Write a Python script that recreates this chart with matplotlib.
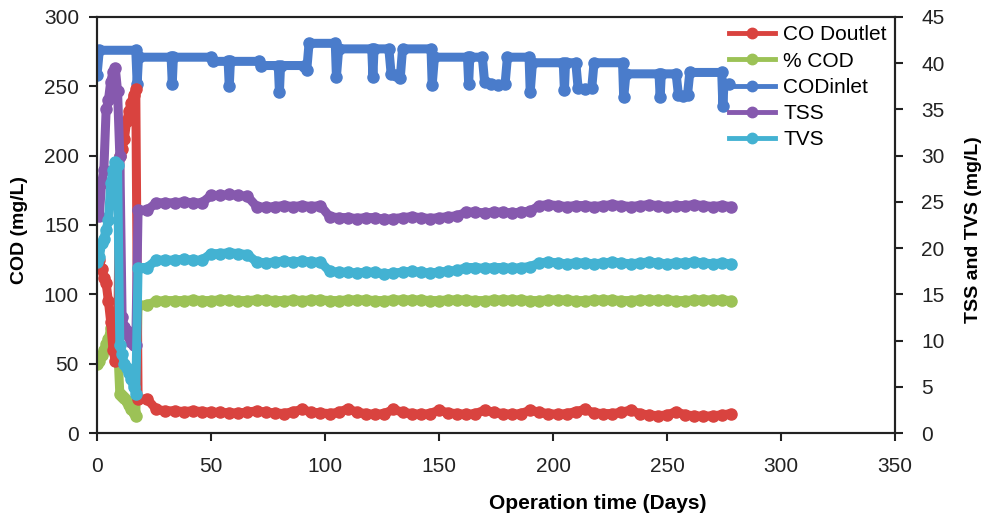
import numpy as np
import matplotlib
matplotlib.use("Agg")
import matplotlib.pyplot as plt
from matplotlib.lines import Line2D

plt.rcParams['font.family'] = ['Liberation Sans', 'DejaVu Sans']

# days 0-17 (start-up, daily) then every 4 days up to day 278
days_early = np.arange(0, 18)
days_late = np.arange(18, 279, 4)
days = np.concatenate([days_early, days_late])

# CO Doutlet (mg/L, left axis)
cod_out = [134, 125, 118, 112, 108, 95, 80, 60, 52, 55, 200, 205, 212, 225, 232, 238, 244, 248,
           24.5, 24.5, 17, 16, 16, 15.5, 16, 15.5, 15, 15,
           14.5, 14.5, 15, 16, 15, 14.5, 14, 15.5, 17, 15,
           14.5, 14, 15, 17.5, 15, 14, 13.5, 14, 17, 15,
           14, 13.5, 14, 16.5, 14.5, 14, 13.5, 14, 16.5, 15,
           14, 13.5, 14, 16.5, 15, 14, 13.5, 14, 15.5, 17,
           14.5, 14, 14, 15, 16.5, 14, 13, 12.5, 13, 15.5,
           13, 12.5, 12, 12.5, 13, 14]

# % COD removal (left axis)
cod_pct = [50, 52, 56, 60, 64, 68, 76, 80, 74, 65, 28, 27, 25, 23, 20, 17, 15, 12,
           92, 92.5, 95, 95.5, 95.5, 95.5, 96, 95.5, 95.5, 96,
           96, 95.5, 95.5, 96, 96, 95.5, 95.5, 96, 95.5, 96,
           96, 95.5, 95.5, 96, 96, 96, 95.5, 95.5, 96, 96,
           96, 96, 95.5, 95.5, 96, 96, 96, 95.5, 95.5, 96,
           96, 96, 96, 95.5, 95.5, 96, 96, 96, 95.5, 95.5,
           96, 96, 96, 95.5, 95.5, 96, 96, 96, 96, 95.5,
           95.5, 96, 96, 96, 96, 95.5]

# TSS (mg/L, right axis)
tss = [24, 23.5, 27, 28.5, 35, 36, 38, 39, 39.5, 37, 30, 12.5, 11.5, 11, 10.5, 9.8, 9.5, 9.5,
       24.1, 24.1, 24.9, 24.9, 24.9, 25.0, 24.9, 24.9, 25.7, 25.7,
       25.8, 25.7, 25.6, 24.5, 24.4, 24.5, 24.6, 24.5, 24.6, 24.5,
       24.6, 23.4, 23.3, 23.3, 23.2, 23.3, 23.3, 23.1, 23.2, 23.3,
       23.4, 23.3, 23.2, 23.3, 23.4, 23.5, 23.9, 23.9, 23.8, 23.9,
       23.9, 23.8, 23.9, 24.0, 24.6, 24.7, 24.6, 24.5, 24.6, 24.6,
       24.5, 24.6, 24.7, 24.6, 24.5, 24.6, 24.7, 24.6, 24.5, 24.6,
       24.6, 24.7, 24.6, 24.5, 24.6, 24.5]

# TVS (mg/L, right axis)
tvs = [18.5, 19, 20.5, 21, 22, 23, 27, 28.5, 29.3, 29, 9.5, 8.5, 7.5, 7, 6.5, 5.8, 5, 4.2,
       17.9, 17.9, 18.7, 18.7, 18.7, 18.8, 18.7, 18.7, 19.4, 19.4,
       19.5, 19.4, 19.3, 18.5, 18.4, 18.5, 18.6, 18.5, 18.6, 18.5,
       18.5, 17.5, 17.4, 17.4, 17.3, 17.4, 17.4, 17.2, 17.3, 17.4,
       17.5, 17.4, 17.3, 17.4, 17.5, 17.6, 17.9, 17.9, 17.8, 17.9,
       17.9, 17.8, 17.9, 18.0, 18.4, 18.5, 18.4, 18.3, 18.4, 18.4,
       18.3, 18.4, 18.5, 18.4, 18.3, 18.4, 18.5, 18.4, 18.3, 18.4,
       18.4, 18.5, 18.4, 18.3, 18.4, 18.3]

# CODinlet (mg/L, left axis) - step levels with single low readings
inlet_days = [0, 1, 17, 17.6, 18.2, 32.5, 33, 33.5, 50, 51, 57.5, 58, 58.5, 71, 72, 79.5, 80, 80.5,
              91, 92, 93, 104.5, 105, 106, 120.5, 121, 121.5, 128, 129, 131, 133, 134, 146.5, 147,
              148, 162.5, 163, 163.5, 169, 170, 173, 176, 179, 180, 189.5, 190, 191, 204.5, 205,
              205.5, 210, 211, 214, 217, 218, 230.5, 231, 232, 246.5, 247, 247.5, 254, 255, 257,
              259, 260, 274, 274.5, 275, 277]
inlet = [258, 276, 276, 252, 271, 271, 252, 271, 271, 268, 268, 250, 268, 268, 265, 265, 246, 265,
         265, 262, 281, 281, 257, 277, 277, 257, 277, 277, 259, 258, 256, 277, 277, 251, 271,
         271, 252, 271, 271, 253, 252, 251, 252, 271, 271, 246, 267, 267, 247, 267, 267, 249,
         248, 249, 267, 267, 242, 259, 259, 242, 259, 259, 244, 243, 244, 260, 260, 236, 252, 252]

c_red = '#D9433F'
c_green = '#9CC256'
c_blue = '#4A7CCB'
c_purple = '#8659AE'
c_cyan = '#43B2D2'

fig = plt.figure(figsize=(9.86, 5.21), dpi=100)
ax = fig.add_axes([0.0984, 0.1689, 0.8093, 0.7985])
ax2 = ax.twinx()

kw = dict(lw=6.5, marker='o', ms=8, solid_joinstyle='round', solid_capstyle='round')
ax.plot(inlet_days, inlet, color=c_blue, **kw)
ax.plot(days, cod_pct, color=c_green, **kw)
ax.plot(days, cod_out, color=c_red, **kw)
ax2.plot(days, tss, color=c_purple, **kw)
ax2.plot(days, tvs, color=c_cyan, **kw)

ax.set_xlim(0, 350)
ax.set_ylim(0, 300)
ax2.set_ylim(0, 45)
ax.set_xticks(np.arange(0, 351, 50))
ax.set_yticks(np.arange(0, 301, 50))
ax2.set_yticks(np.arange(0, 46, 5))

for a in (ax, ax2):
    for s in a.spines.values():
        s.set_linewidth(1.5)
        s.set_color('#222222')
ax.tick_params(axis='x', direction='out', length=6, width=1.5, labelsize=15, pad=11, colors='#222222')
ax.tick_params(axis='y', direction='out', length=6, width=1.5, labelsize=15, pad=7, colors='#222222')
ax2.tick_params(axis='y', direction='out', length=6, width=1.5, labelsize=15, pad=13, colors='#222222')

ax.set_xlabel('Operation time (Days)', fontsize=15, fontweight='bold')
ax.xaxis.set_label_coords(0.627, -0.147)
ax.set_ylabel('COD (mg/L)', fontsize=14, fontweight='bold')
ax.yaxis.set_label_coords(-0.086, 0.488)
ax2.set_ylabel('TSS and TVS (mg/L)', fontsize=14, fontweight='bold', rotation=90)
ax2.yaxis.set_label_coords(1.088, 0.488)

handles = [Line2D([], [], color=c, lw=3.5, marker='o', ms=7.5) for c in (c_red, c_green, c_blue, c_purple, c_cyan)]
labels = ['CO Doutlet', '% COD', 'CODinlet', 'TSS', 'TVS']
ax2.legend(handles, labels, loc='upper right', frameon=False, fontsize=15,
           borderaxespad=0.4, borderpad=0.0, labelspacing=0.35, handlelength=2.2,
           handletextpad=0.4)

fig.savefig('out.png', dpi=100)
